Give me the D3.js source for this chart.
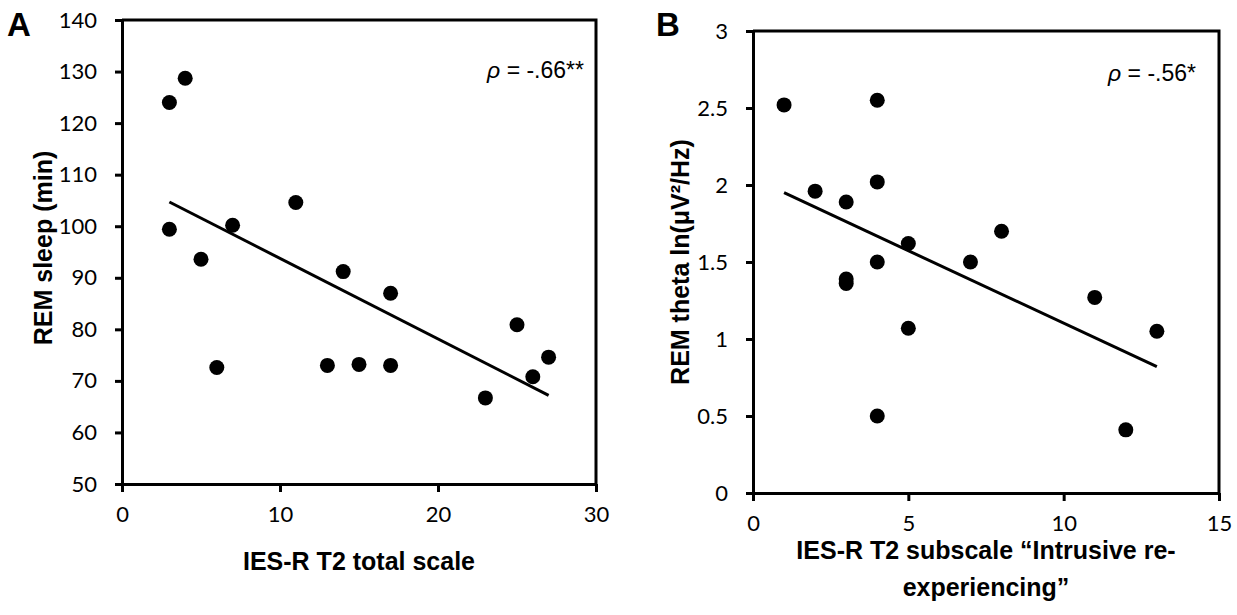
<!DOCTYPE html>
<html>
<head>
<meta charset="utf-8">
<script src="https://cdn.jsdelivr.net/npm/d3@7"></script>
<style>
  body { margin: 0; background: #fff; }
  text { fill: #000; }
</style>
</head>
<body>
<svg id="chart" width="1237" height="615"></svg>
<script>
// Panel A: IES-R T2 total scale vs REM sleep (min)
const xA = [3, 4, 3, 5, 7, 11, 14, 17, 25, 6, 13, 15, 17, 26, 27, 23];
const yA = [124, 128.7, 99.4, 93.6, 100.2, 104.6, 91.2, 87, 80.9, 72.6, 73, 73.2, 73, 70.8, 74.6, 66.7];
const trendA = [{x: 3, y: 104.7}, {x: 27, y: 67.2}];
const xTicksA = [0, 10, 20, 30];
const yTicksA = [50, 60, 70, 80, 90, 100, 110, 120, 130, 140];

// Panel B: IES-R T2 intrusive subscale vs REM theta
const xB = [1, 4, 2, 3, 4, 5, 4, 3, 3, 7, 8, 11, 5, 13, 4, 12];
const yB = [2.52, 2.55, 1.96, 1.89, 2.02, 1.62, 1.50, 1.39, 1.36, 1.50, 1.70, 1.27, 1.07, 1.05, 0.50, 0.41];
const trendB = [{x: 1, y: 1.95}, {x: 13, y: 0.82}];
const xTicksB = [0, 5, 10, 15];
const yTicksB = [0, 0.5, 1, 1.5, 2, 2.5, 3];

const svg = d3.select("#chart");
const tickFont = "Lato, 'Open Sans', sans-serif";
const titleFont = "'Liberation Sans', Arial, sans-serif";

function drawPanel(p) {
  const x = d3.scaleLinear().domain(p.xDomain).range([p.left, p.right]);
  const y = d3.scaleLinear().domain(p.yDomain).range([p.bottom, p.top]);
  const g = svg.append("g");

  // frame (top + right)
  g.append("path")
    .attr("d", `M${p.left},${p.top}H${p.right}V${p.bottom}`)
    .attr("fill", "none")
    .attr("stroke", "#000")
    .attr("stroke-width", 3);

  const yAxis = g.append("g")
    .attr("transform", `translate(${p.left},0)`)
    .call(d3.axisLeft(y).tickValues(p.yTicks).tickFormat(d3.format("~g"))
      .tickSize(7).tickSizeOuter(0).tickPadding(18));

  const xAxis = g.append("g")
    .attr("transform", `translate(0,${p.bottom})`)
    .call(d3.axisBottom(x).tickValues(p.xTicks).tickFormat(d3.format("~g"))
      .tickSize(8).tickSizeOuter(0).tickPadding(14));

  [xAxis, yAxis].forEach(a => {
    a.select(".domain").attr("stroke-width", 3);
    a.selectAll(".tick line").attr("stroke-width", 3);
    a.selectAll(".tick text")
      .attr("font-family", tickFont)
      .attr("font-size", 22)
      .attr("fill", "#000");
  });

  // regression line
  g.append("line")
    .attr("x1", x(p.trend[0].x)).attr("y1", y(p.trend[0].y))
    .attr("x2", x(p.trend[1].x)).attr("y2", y(p.trend[1].y))
    .attr("stroke", "#000")
    .attr("stroke-width", 3);

  g.selectAll("circle")
    .data(d3.zip(p.xs, p.ys))
    .join("circle")
    .attr("cx", d => x(d[0]))
    .attr("cy", d => y(d[1]))
    .attr("r", 7.5)
    .attr("fill", "#000");

  // panel letter
  g.append("text")
    .attr("x", p.letterX).attr("y", 36)
    .attr("font-family", titleFont)
    .attr("font-weight", "bold")
    .attr("font-size", 33)
    .text(p.letter);

  // correlation
  const rho = g.append("text")
    .attr("x", p.rhoX).attr("y", p.rhoY)
    .attr("text-anchor", "end")
    .attr("font-family", titleFont)
    .attr("font-size", 23);
  rho.append("tspan").attr("font-style", "italic").text("ρ");
  rho.append("tspan").text(" = " + p.rho);

  // axis titles
  const xt = g.append("text")
    .attr("x", (p.left + p.right) / 2)
    .attr("y", p.xTitleY)
    .attr("text-anchor", "middle")
    .attr("font-family", titleFont)
    .attr("font-weight", "bold")
    .attr("font-size", 25);
  p.xTitle.forEach((line, i) => {
    xt.append("tspan")
      .attr("x", (p.left + p.right) / 2)
      .attr("dy", i === 0 ? 0 : 37)
      .text(line);
  });

  g.append("text")
    .attr("transform", `translate(${p.yTitleX},${p.yTitleCY}) rotate(-90)`)
    .attr("text-anchor", "middle")
    .attr("font-family", titleFont)
    .attr("font-weight", "bold")
    .attr("font-size", 25)
    .text(p.yTitle);
}

drawPanel({
  xs: xA, ys: yA, trend: trendA,
  xDomain: [0, 30], yDomain: [50, 140],
  xTicks: xTicksA, yTicks: yTicksA,
  left: 122, right: 596, top: 20, bottom: 484,
  letter: "A", letterX: 7,
  rho: "-.66**", rhoX: 584, rhoY: 78,
  xTitle: ["IES-R T2 total scale"], xTitleY: 570,
  yTitle: "REM sleep (min)", yTitleX: 52, yTitleCY: 248
});

drawPanel({
  xs: xB, ys: yB, trend: trendB,
  xDomain: [0, 15], yDomain: [0, 3],
  xTicks: xTicksB, yTicks: yTicksB,
  left: 753, right: 1219, top: 31, bottom: 493,
  letter: "B", letterX: 656,
  rho: "-.56*", rhoX: 1196, rhoY: 81,
  xTitle: ["IES-R T2 subscale \u201cIntrusive re-", "experiencing\u201d"], xTitleY: 559,
  yTitle: "REM theta ln(\u03bcV\u00b2/Hz)", yTitleX: 689, yTitleCY: 262
});
</script>
</body>
</html>
